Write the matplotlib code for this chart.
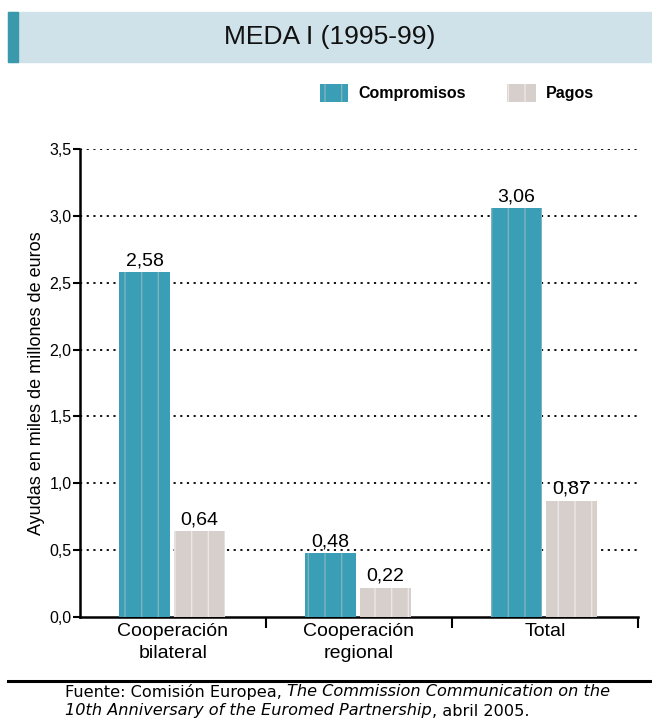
import matplotlib
matplotlib.use("Agg")
import matplotlib.pyplot as plt
from matplotlib.patches import Rectangle
from matplotlib.lines import Line2D
import numpy as np

# data
categories = ["Cooperación\nbilateral", "Cooperación\nregional", "Total"]
compromisos = [2.58, 0.48, 3.06]
pagos = [0.64, 0.22, 0.87]
series_names = ["Compromisos", "Pagos"]

teal = "#3a9fb6"
teal_stripe = "#7fb3bd"
grey = "#d6cfcc"
grey_stripe = "#ece8e6"

plt.rcParams["font.family"] = ["Liberation Sans", "DejaVu Sans"]
plt.rcParams["hatch.linewidth"] = 1.0

fig = plt.figure(figsize=(6.52, 7.24), dpi=100)
ax = fig.add_axes([80 / 652, 107 / 724, 558 / 652, 468 / 724])

# title band
fig.patches.append(Rectangle((8 / 652, 662 / 724), 644 / 652, 50 / 724,
                             transform=fig.transFigure, color="#cfe2ea", zorder=0))
fig.patches.append(Rectangle((8 / 652, 662 / 724), 10 / 652, 50 / 724,
                             transform=fig.transFigure, color="#3a9aab", zorder=1))
fig.text(0.505, 687 / 724, "MEDA I (1995-99)", ha="center", va="center",
         fontsize=19, color="#111111")

x = np.arange(len(categories))
w = 0.27
b1 = ax.bar(x - 0.153, compromisos, w, color=teal, edgecolor=teal_stripe,
            hatch="|", linewidth=0, zorder=3, label=series_names[0])
b2 = ax.bar(x + 0.143, pagos, w, color=grey, edgecolor=grey_stripe,
            hatch="|", linewidth=0, zorder=3, label=series_names[1])

fmt = lambda v: f"{v:.2f}".replace(".", ",")
ax.bar_label(b1, labels=[fmt(v) for v in compromisos], padding=2, fontsize=14)
ax.bar_label(b2, labels=[fmt(v) for v in pagos], padding=2, fontsize=14)

ax.set_xlim(-0.5, 2.5)
ax.set_ylim(0, 3.5)
yt = np.arange(0, 3.51, 0.5)
ax.set_yticks(yt)
ax.set_yticklabels([f"{v:.1f}".replace(".", ",") for v in yt], fontsize=11.5)
ax.tick_params(axis="y", length=5, width=1.5, pad=1)

# category boundaries as ticks, labels at centres
ax.set_xticks([0.5, 1.5, 2.5])
ax.set_xticklabels([])
ax.set_xticks(x, minor=True)
ax.set_xticklabels(categories, minor=True, fontsize=14, linespacing=1.45)
ax.tick_params(axis="x", which="major", length=8, width=1.5)
ax.tick_params(axis="x", which="minor", length=0, pad=4)

for s in ["top", "right"]:
    ax.spines[s].set_visible(False)
for s in ["left", "bottom"]:
    ax.spines[s].set_linewidth(1.8)

for v in yt[1:]:
    ax.axhline(v, color="black", linestyle=(0, (1.2, 2.5)), linewidth=1.3, zorder=1)

ax.set_ylabel("Ayudas en miles de millones de euros", fontsize=13, labelpad=3)

ax.legend(handles=[b1, b2], loc="center", bbox_to_anchor=(0.675, 1.12), ncol=2,
          frameon=False, handlelength=1.8, handleheight=1.4, columnspacing=2.6,
          handletextpad=0.6, prop={"size": 11.5, "weight": "bold"})

# bottom rule and source
fig.add_artist(Line2D([8 / 652, 1.0], [43 / 724, 43 / 724], color="black", linewidth=2.2))

fig.canvas.draw()
renderer = fig.canvas.get_renderer()


def run_text(x0, y0, parts):
    xx = x0
    for txt, style in parts:
        t = fig.text(xx, y0, txt, fontsize=11.6, style=style, va="center", ha="left",
                     family=["DejaVu Sans"])
        bb = t.get_window_extent(renderer=renderer)
        xx += bb.width / fig.bbox.width


run_text(65 / 652, 32 / 724, [("Fuente: Comisión Europea, ", "normal"),
                              ("The Commission Communication on the", "italic")])
run_text(65 / 652, 13 / 724, [("10th Anniversary of the Euromed Partnership", "italic"),
                              (", abril 2005.", "normal")])

fig.savefig("out.png", dpi=100)
